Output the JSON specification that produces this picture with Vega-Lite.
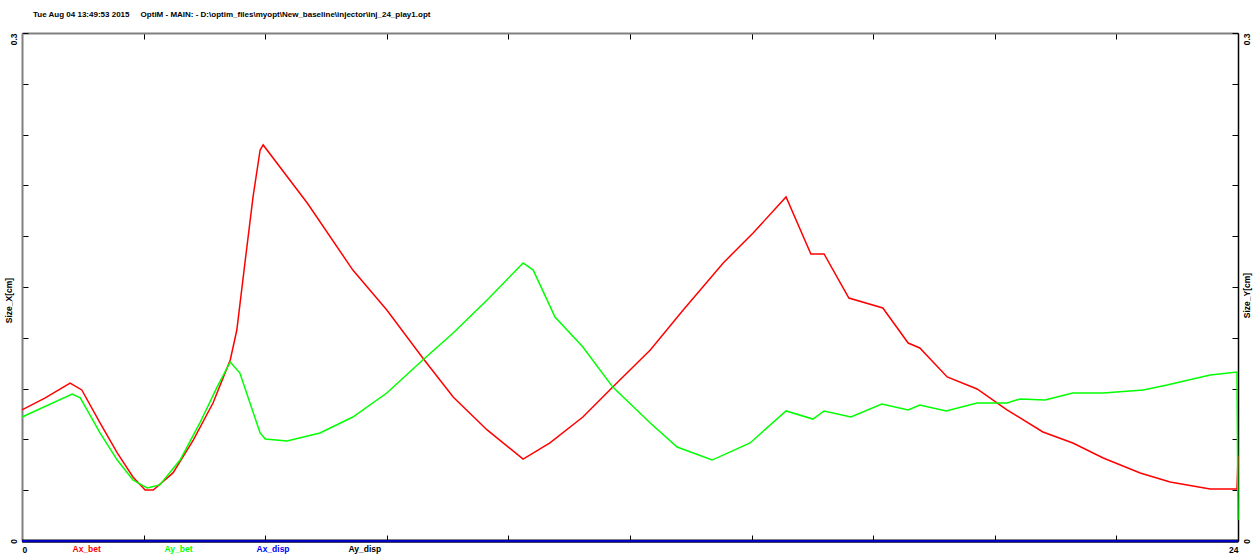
{
  "$schema": "https://vega.github.io/schema/vega-lite/v6.json",
  "width": 1216,
  "height": 508,
  "autosize": {"type": "none"},
  "padding": {"left": 22, "top": 33, "right": 16, "bottom": 16},
  "background": "#ffffff",
  "config": {
    "view": {"stroke": null},
    "font": "Liberation Sans, Arial, sans-serif"
  },
  "title": {
    "text": "Tue Aug 04 13:49:53 2015\u00a0\u00a0\u00a0\u00a0\u00a0OptiM - MAIN: - D:\\optim_files\\myopt\\New_baseline\\injector\\inj_24_play1.opt",
    "anchor": "start",
    "frame": "group",
    "font": "Liberation Sans, Arial, sans-serif",
    "fontSize": 8,
    "fontWeight": "bold",
    "color": "#000000",
    "offset": 14,
    "dx": 11
  },
  "data": {"values": [
    {"s":"Ax_bet","i":1,"t":0,"v":0.0774},{"s":"Ax_bet","i":2,"t":0.45,"v":0.0844},{"s":"Ax_bet","i":3,"t":0.95,"v":0.0933},{"s":"Ax_bet","i":4,"t":1.18,"v":0.0892},{"s":"Ax_bet","i":5,"t":1.54,"v":0.0697},{"s":"Ax_bet","i":6,"t":1.88,"v":0.052},{"s":"Ax_bet","i":7,"t":2.19,"v":0.0378},{"s":"Ax_bet","i":8,"t":2.43,"v":0.0301},{"s":"Ax_bet","i":9,"t":2.59,"v":0.0301},{"s":"Ax_bet","i":10,"t":2.98,"v":0.0402},{"s":"Ax_bet","i":11,"t":3.38,"v":0.0596},{"s":"Ax_bet","i":12,"t":3.77,"v":0.0815},{"s":"Ax_bet","i":13,"t":4.11,"v":0.1069},{"s":"Ax_bet","i":14,"t":4.24,"v":0.1246},{"s":"Ax_bet","i":15,"t":4.4,"v":0.1642},{"s":"Ax_bet","i":16,"t":4.56,"v":0.2032},{"s":"Ax_bet","i":17,"t":4.7,"v":0.2309},{"s":"Ax_bet","i":18,"t":4.76,"v":0.2339},{"s":"Ax_bet","i":19,"t":5.63,"v":0.1996},{"s":"Ax_bet","i":20,"t":6.53,"v":0.16},{"s":"Ax_bet","i":21,"t":7.2,"v":0.1364},{"s":"Ax_bet","i":22,"t":7.91,"v":0.1081},{"s":"Ax_bet","i":23,"t":8.51,"v":0.085},{"s":"Ax_bet","i":24,"t":9.18,"v":0.0656},{"s":"Ax_bet","i":25,"t":9.89,"v":0.0484},{"s":"Ax_bet","i":26,"t":10.42,"v":0.0579},{"s":"Ax_bet","i":27,"t":11.07,"v":0.0732},{"s":"Ax_bet","i":28,"t":11.66,"v":0.0909},{"s":"Ax_bet","i":29,"t":12.4,"v":0.1128},{"s":"Ax_bet","i":30,"t":13.05,"v":0.1364},{"s":"Ax_bet","i":31,"t":13.84,"v":0.1642},{"s":"Ax_bet","i":32,"t":14.43,"v":0.1819},{"s":"Ax_bet","i":33,"t":15.08,"v":0.2032},{"s":"Ax_bet","i":34,"t":15.57,"v":0.1695},{"s":"Ax_bet","i":35,"t":15.83,"v":0.1695},{"s":"Ax_bet","i":36,"t":16.32,"v":0.1435},{"s":"Ax_bet","i":37,"t":16.99,"v":0.1376},{"s":"Ax_bet","i":38,"t":17.49,"v":0.1169},{"s":"Ax_bet","i":39,"t":17.72,"v":0.114},{"s":"Ax_bet","i":40,"t":18.26,"v":0.0969},{"s":"Ax_bet","i":41,"t":18.85,"v":0.0898},{"s":"Ax_bet","i":42,"t":19.44,"v":0.0774},{"s":"Ax_bet","i":43,"t":20.15,"v":0.0644},{"s":"Ax_bet","i":44,"t":20.74,"v":0.0579},{"s":"Ax_bet","i":45,"t":21.34,"v":0.049},{"s":"Ax_bet","i":46,"t":22.07,"v":0.0402},{"s":"Ax_bet","i":47,"t":22.66,"v":0.0348},{"s":"Ax_bet","i":48,"t":23.45,"v":0.0307},{"s":"Ax_bet","i":49,"t":23.98,"v":0.0307},{"s":"Ax_bet","i":50,"t":24,"v":0.05},
    {"s":"Ay_bet","i":1,"t":0,"v":0.0732},{"s":"Ay_bet","i":2,"t":0.99,"v":0.0868},{"s":"Ay_bet","i":3,"t":1.15,"v":0.0845},{"s":"Ay_bet","i":4,"t":1.54,"v":0.0638},{"s":"Ay_bet","i":5,"t":1.88,"v":0.0478},{"s":"Ay_bet","i":6,"t":2.19,"v":0.036},{"s":"Ay_bet","i":7,"t":2.47,"v":0.0313},{"s":"Ay_bet","i":8,"t":2.72,"v":0.0331},{"s":"Ay_bet","i":9,"t":3.12,"v":0.0478},{"s":"Ay_bet","i":10,"t":3.51,"v":0.0697},{"s":"Ay_bet","i":11,"t":3.85,"v":0.0909},{"s":"Ay_bet","i":12,"t":4.11,"v":0.1057},{"s":"Ay_bet","i":13,"t":4.3,"v":0.0992},{"s":"Ay_bet","i":14,"t":4.7,"v":0.0638},{"s":"Ay_bet","i":15,"t":4.8,"v":0.0602},{"s":"Ay_bet","i":16,"t":5.23,"v":0.0591},{"s":"Ay_bet","i":17,"t":5.88,"v":0.0638},{"s":"Ay_bet","i":18,"t":6.53,"v":0.0732},{"s":"Ay_bet","i":19,"t":7.2,"v":0.0874},{"s":"Ay_bet","i":20,"t":7.91,"v":0.1069},{"s":"Ay_bet","i":21,"t":8.51,"v":0.1228},{"s":"Ay_bet","i":22,"t":9.18,"v":0.1423},{"s":"Ay_bet","i":23,"t":9.89,"v":0.1642},{"s":"Ay_bet","i":24,"t":10.09,"v":0.16},{"s":"Ay_bet","i":25,"t":10.52,"v":0.1323},{"s":"Ay_bet","i":26,"t":11.07,"v":0.1146},{"s":"Ay_bet","i":27,"t":11.66,"v":0.0909},{"s":"Ay_bet","i":28,"t":12.4,"v":0.0697},{"s":"Ay_bet","i":29,"t":12.93,"v":0.0555},{"s":"Ay_bet","i":30,"t":13.62,"v":0.0478},{"s":"Ay_bet","i":31,"t":14.37,"v":0.0579},{"s":"Ay_bet","i":32,"t":15.08,"v":0.0768},{"s":"Ay_bet","i":33,"t":15.61,"v":0.072},{"s":"Ay_bet","i":34,"t":15.83,"v":0.0768},{"s":"Ay_bet","i":35,"t":16.36,"v":0.0732},{"s":"Ay_bet","i":36,"t":16.97,"v":0.0809},{"s":"Ay_bet","i":37,"t":17.49,"v":0.0774},{"s":"Ay_bet","i":38,"t":17.72,"v":0.0803},{"s":"Ay_bet","i":39,"t":18.24,"v":0.0768},{"s":"Ay_bet","i":40,"t":18.85,"v":0.0815},{"s":"Ay_bet","i":41,"t":19.44,"v":0.0815},{"s":"Ay_bet","i":42,"t":19.7,"v":0.0839},{"s":"Ay_bet","i":43,"t":20.19,"v":0.0833},{"s":"Ay_bet","i":44,"t":20.74,"v":0.0874},{"s":"Ay_bet","i":45,"t":21.34,"v":0.0874},{"s":"Ay_bet","i":46,"t":22.13,"v":0.0892},{"s":"Ay_bet","i":47,"t":22.6,"v":0.0921},{"s":"Ay_bet","i":48,"t":23.45,"v":0.098},{"s":"Ay_bet","i":49,"t":23.98,"v":0.0998},{"s":"Ay_bet","i":50,"t":24,"v":0.0124},
    {"s":"Ay_disp","i":1,"t":0,"v":0},{"s":"Ay_disp","i":2,"t":24,"v":0},
    {"s":"Ax_disp","i":1,"t":0,"v":0},{"s":"Ax_disp","i":2,"t":24,"v":0}
  ]},
  "resolve": {"scale": {"x": "shared", "y": "shared", "color": "shared"}, "axis": {"x": "independent", "y": "independent"}},
  "layer": [
    {
      "transform": [{"filter": "datum.s == 'Ay_disp'"}],
      "mark": {"type": "line", "strokeWidth": 3, "clip": false},
      "encoding": {
        "x": {"field": "t", "type": "quantitative", "scale": {"domain": [0, 24], "nice": false, "zero": false},
          "axis": {"orient": "top", "values": [0,2.4,4.8,7.2,9.6,12,14.4,16.8,19.2,21.6,24], "labels": false, "title": null, "grid": false,
            "tickSize": -6, "tickColor": "#000000", "tickWidth": 1, "domainColor": "#808080", "domainWidth": 2}},
        "y": {"field": "v", "type": "quantitative", "scale": {"domain": [0, 0.3], "nice": false, "zero": true},
          "axis": {"orient": "right", "values": [0,0.03,0.06,0.09,0.12,0.15,0.18,0.21,0.24,0.27,0.3],
            "labelExpr": "datum.value == 0 ? '0' : (abs(datum.value - 0.3) < 0.0001 ? '0.3' : '')",
            "labelAngle": -90, "labelBaseline": "middle", "labelPadding": 14,
            "labelAlign": {"condition": {"test": "datum.value > 0.2", "value": "right"}, "value": "center"},
            "labelFont": "Liberation Sans, Arial, sans-serif", "labelFontSize": 8.5, "labelFontWeight": "bold", "labelColor": "#000000",
            "labelOverlap": false, "labelFlush": false, "labelBound": false,
            "tickSize": -6, "tickColor": "#000000", "tickWidth": 1, "domainColor": "#000000", "domainWidth": 1.5, "grid": false,
            "title": "Size_Y[cm]", "titleAngle": -90, "titleAlign": "center", "titleBaseline": "middle", "titleX": 8, "titleY": 262,
            "titleFont": "Liberation Sans, Arial, sans-serif", "titleFontSize": 8.5, "titleFontWeight": "bold", "titleColor": "#000000"}},
        "color": {"field": "s", "type": "nominal",
          "scale": {"domain": ["Ax_bet", "Ay_bet", "Ax_disp", "Ay_disp"], "range": ["#ff0000", "#00ff00", "#0000ff", "#000000"]},
          "legend": {"orient": "none", "legendX": 42, "legendY": 512, "direction": "horizontal", "columns": 4, "title": null,
            "values": ["Ax_bet", "Ay_bet", "Ax_disp", "Ay_disp"],
            "symbolSize": 0, "symbolStrokeWidth": 0, "symbolOpacity": 0, "labelOffset": 0, "gridAlign": "all", "columnPadding": 50,
            "labelFont": "Liberation Sans, Arial, sans-serif", "labelFontSize": 8.5, "labelFontWeight": "bold",
            "encode": {"labels": {"update": {"fill": {"scale": "color", "field": "value"}}}}}},
        "order": {"field": "i", "type": "quantitative"}
      }
    },
    {
      "transform": [{"filter": "datum.s == 'Ax_bet' || datum.s == 'Ay_bet'"}],
      "mark": {"type": "line", "strokeWidth": 1.5, "clip": false},
      "encoding": {
        "x": {"field": "t", "type": "quantitative",
          "axis": {"orient": "bottom", "values": [0,2.4,4.8,7.2,9.6,12,14.4,16.8,19.2,21.6,24],
            "labelExpr": "datum.value == 0 ? '0' : (datum.value == 24 ? '24' : '')",
            "labelFlush": true, "labelOverlap": false, "labelPadding": 10,
            "labelFont": "Liberation Sans, Arial, sans-serif", "labelFontSize": 8.5, "labelFontWeight": "bold", "labelColor": "#000000",
            "tickSize": -6, "tickColor": "#000000", "tickWidth": 1, "domainColor": "#000080", "domainWidth": 2, "grid": false, "title": null}},
        "y": {"field": "v", "type": "quantitative",
          "axis": {"orient": "left", "offset": 0, "values": [0,0.03,0.06,0.09,0.12,0.15,0.18,0.21,0.24,0.27,0.3],
            "labels": false, "title": null,
            "tickSize": -6, "tickColor": "#000000", "tickWidth": 1, "domainColor": "#808080", "domainWidth": 2, "grid": false}},
        "color": {"field": "s", "type": "nominal"},
        "order": {"field": "i", "type": "quantitative"}
      }
    },
    {
      "transform": [{"filter": "datum.s == 'Ax_disp'"}],
      "mark": {"type": "line", "strokeWidth": 1.5, "clip": false},
      "encoding": {
        "x": {"field": "t", "type": "quantitative", "axis": null},
        "y": {"field": "v", "type": "quantitative",
          "axis": {"orient": "left", "offset": 0, "values": [0,0.03,0.06,0.09,0.12,0.15,0.18,0.21,0.24,0.27,0.3],
            "ticks": false, "domain": false, "grid": false,
            "labelExpr": "datum.value == 0 ? '0' : (abs(datum.value - 0.3) < 0.0001 ? '0.3' : '')",
            "labelAngle": -90, "labelBaseline": "middle", "labelPadding": 9,
            "labelAlign": {"condition": {"test": "datum.value > 0.2", "value": "right"}, "value": "center"},
            "labelFont": "Liberation Sans, Arial, sans-serif", "labelFontSize": 8.5, "labelFontWeight": "bold", "labelColor": "#000000",
            "labelOverlap": false, "labelFlush": false, "labelBound": false,
            "title": "Size_X[cm]", "titleAngle": -90, "titleAlign": "center", "titleBaseline": "middle", "titleX": -14, "titleY": 267,
            "titleFont": "Liberation Sans, Arial, sans-serif", "titleFontSize": 8.5, "titleFontWeight": "bold", "titleColor": "#000000"}},
        "color": {"field": "s", "type": "nominal"},
        "order": {"field": "i", "type": "quantitative"}
      }
    }
  ]
}
